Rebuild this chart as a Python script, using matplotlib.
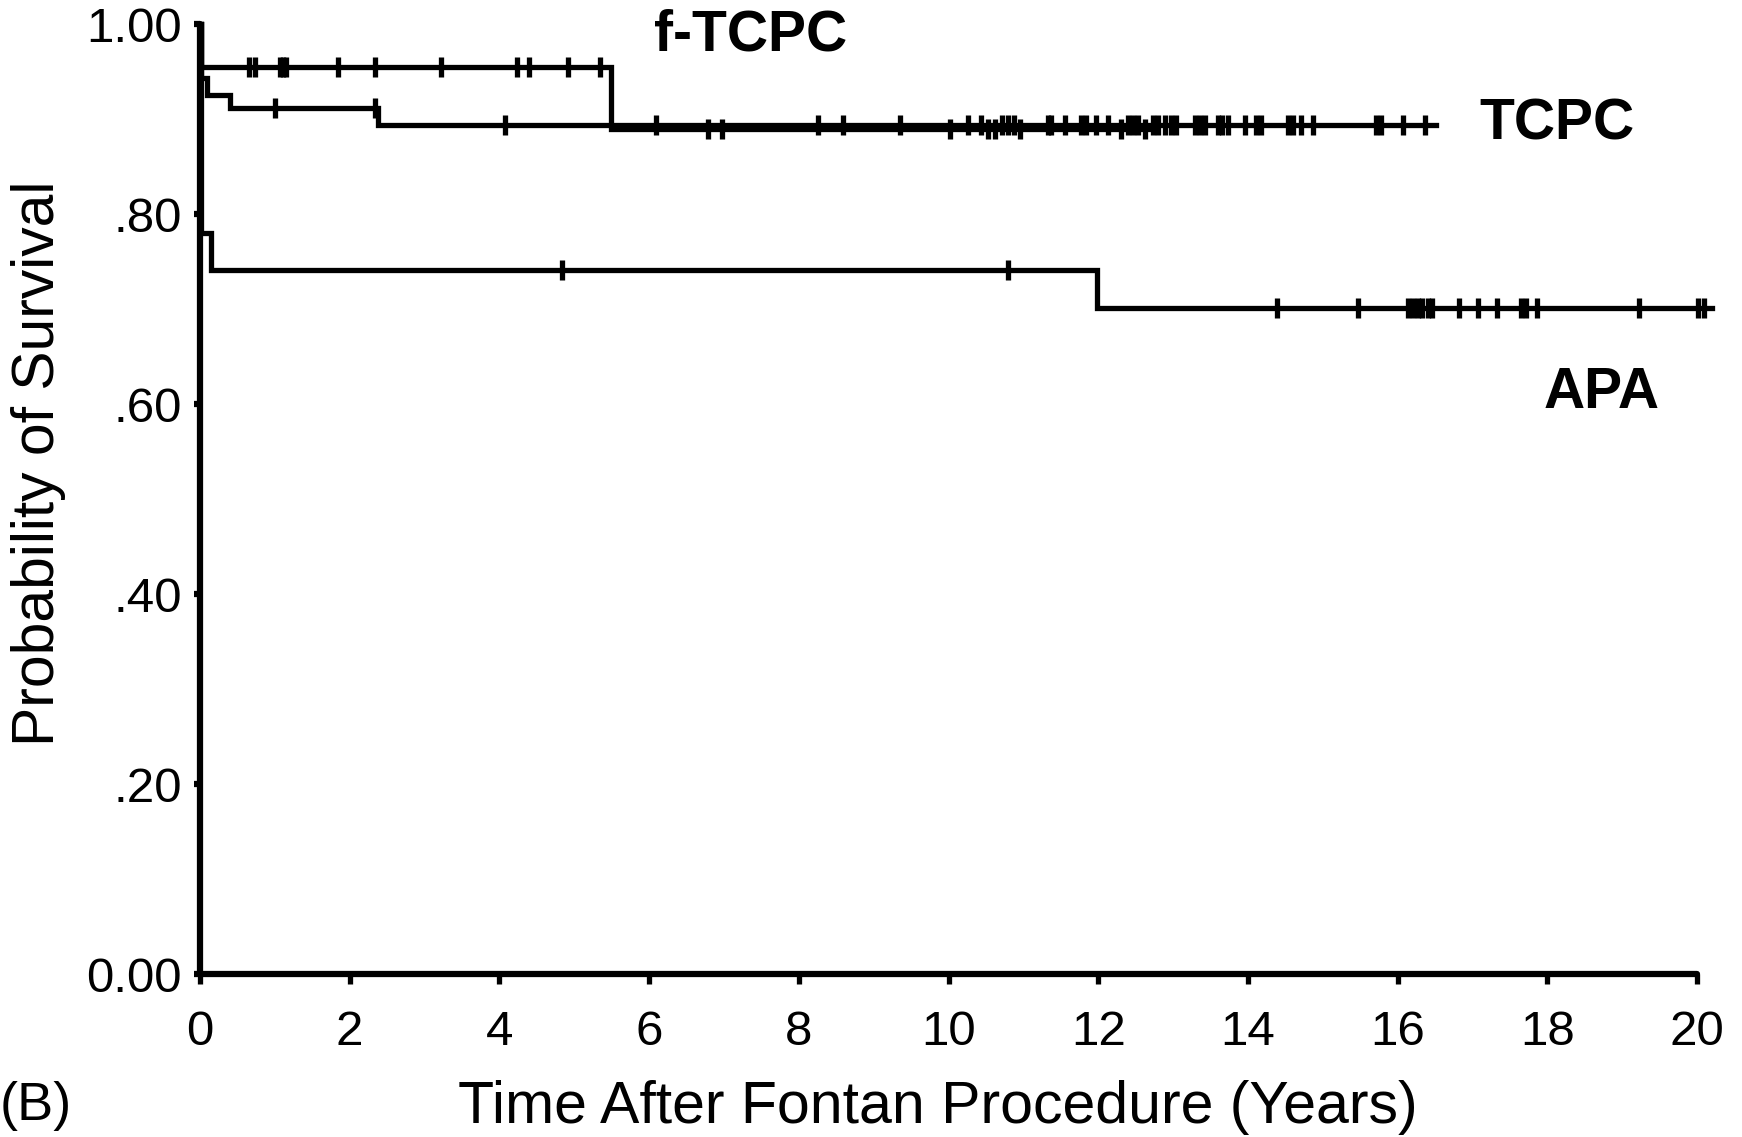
import numpy as np
import matplotlib
matplotlib.use("Agg")
import matplotlib.pyplot as plt

plt.rcParams['font.family'] = ['Liberation Sans', 'DejaVu Sans']

# Kaplan-Meier steps: event times (years) and survival after each step
tcpc_times = [0.0, 0.02, 0.10, 0.40, 2.38, 16.51]
tcpc_surv = [1.000, 0.943, 0.925, 0.912, 0.894, 0.894]
tcpc_censored = [1.00, 2.34, 4.07, 6.09, 8.26, 8.59, 9.35, 10.26, 10.43, 10.72,
                 10.79, 10.87, 11.33, 11.37, 11.56, 11.77, 11.83, 11.97, 12.13,
                 12.40, 12.46, 12.53, 12.73, 12.80, 12.89, 12.97, 13.04, 13.29,
                 13.36, 13.42, 13.60, 13.66, 13.73, 13.96, 14.11, 14.17, 14.54,
                 14.60, 14.71, 14.87, 15.71, 15.78, 16.07, 16.37]

ftcpc_times = [0.0, 0.01, 5.49, 12.68]
ftcpc_surv = [1.000, 0.955, 0.889, 0.889]
ftcpc_censored = [0.65, 0.73, 1.07, 1.11, 1.15, 1.85, 2.34, 3.22, 4.24, 4.40,
                  4.92, 5.34, 6.79, 6.97, 10.02, 10.53, 10.62, 10.96, 12.30, 12.63]

apa_times = [0.0, 0.01, 0.15, 11.98, 20.20]
apa_surv = [1.000, 0.780, 0.741, 0.701, 0.701]
apa_censored = [4.84, 10.80, 14.39, 15.47, 16.14, 16.20, 16.27, 16.33, 16.40,
                16.46, 16.82, 17.07, 17.33, 17.65, 17.72, 17.86, 19.23, 20.01, 20.09]

x_ticks = list(range(0, 21, 2))
y_ticks = [0.0, 0.2, 0.4, 0.6, 0.8, 1.0]
y_tick_labels = ['0.00', '.20', '.40', '.60', '.80', '1.00']

series = [
    ("f-TCPC", ftcpc_times, ftcpc_surv, ftcpc_censored, (7.36, 0.9716)),
    ("TCPC", tcpc_times, tcpc_surv, tcpc_censored, (18.13, 0.878)),
    ("APA", apa_times, apa_surv, apa_censored, (18.73, 0.596)),
]

W, H = 1742, 1137
fig = plt.figure(figsize=(W / 100, H / 100), dpi=100)
ax = fig.add_axes([200 / W, 1 - 974 / H, 1519.5 / W, 950 / H])

ink = 'black'
for name, t, s, cens, (lx, ly) in series:
    ax.step(t, s, where='post', color=ink, lw=3.8, clip_on=False,
            solid_joinstyle='miter', zorder=3)
    idx = np.searchsorted(t, cens, side='right') - 1
    cy = np.asarray(s)[idx]
    ax.plot(cens, cy, linestyle='none', marker='|', markersize=14.5,
            markeredgewidth=3.8, color=ink, clip_on=False, zorder=4)
    ax.text(lx, ly, name, ha='center', va='baseline', fontsize=41,
            fontweight='bold', color=ink)

ax.set_xlim(0, 20.3)
ax.set_ylim(0, 1.0)
ax.spines['right'].set_visible(False)
ax.spines['top'].set_visible(False)
for side in ('left', 'bottom'):
    ax.spines[side].set_linewidth(4.5)
    ax.spines[side].set_capstyle('round')
ax.spines['bottom'].set_bounds(0, 20)

ax.set_xticks(x_ticks)
ax.set_xticklabels([str(v) for v in x_ticks])
ax.set_yticks(y_ticks)
ax.set_yticklabels(y_tick_labels)
ax.tick_params(axis='x', direction='out', length=7, width=3.8, pad=19,
               labelsize=35.5)
ax.tick_params(axis='y', direction='out', length=4, width=4.5, pad=9,
               labelsize=35.5)

fig.text(39 / W, 1 - 463 / H, 'Probability of Survival', rotation=90,
         ha='center', va='center', fontsize=42.3)
fig.text(938 / W, 1 - 1123 / H, 'Time After Fontan Procedure (Years)',
         ha='center', va='baseline', fontsize=42.5)
fig.text(0 / W, 1 - 1120 / H, '(B)', ha='left', va='baseline', fontsize=39)

fig.savefig('out.png', dpi=100)
